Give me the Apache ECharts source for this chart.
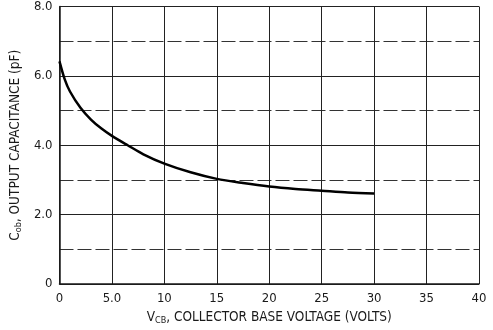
<!DOCTYPE html>
<html>
<head>
    <meta charset="utf-8" />
    <script src="https://cdn.jsdelivr.net/npm/echarts@6/dist/echarts.min.js"></script>
    <style type="text/css">
    body {
        margin: 0;
        background-color: #ffffff;
    }

    #chart {
        width: 493px;
        height: 330px;
    }
    </style>
</head>
<body>
    <div id="chart"></div>
    <script type="text/javascript">
    // curve
    let vcb = [0, 0.5, 1, 2, 3, 4, 5, 6.5, 8, 10, 12.5, 15, 17.5, 20, 22.5, 25, 27.5, 30];
    let cob = [6.42, 5.9, 5.55, 5.08, 4.74, 4.48, 4.27, 4.0, 3.74, 3.47, 3.22, 3.03, 2.91, 2.81, 2.74, 2.69, 2.64, 2.61];

    let xLabels = { 0: '0', 5: '5.0' };
    let yLabels = { 0: '0', 2: '2.0', 4: '4.0', 6: '6.0', 8: '8.0' };

    let font = '"Liberation Sans Narrow", "DejaVu Sans Condensed", sans-serif';
    let ink = '#1a1a1a';

    let pts = [];
    for (let i = 0; i < vcb.length; i++) {
        pts.push([vcb[i], cob[i]]);
    }

    let rich = {
        big: { fontFamily: font, fontSize: 13.5, color: ink, lineHeight: 16 },
        sub: { fontFamily: font, fontSize: 9, color: ink, verticalAlign: 'bottom', lineHeight: 12 }
    };

    let opt = {
        animation: false,
        grid: {
            left: 54,
            right: 14,
            top: 6,
            bottom: 41
        },
        xAxis: {
            type: 'value',
            min: 0,
            max: 40,
            interval: 5,
            name: '{big|V}{sub|CB}{big|, COLLECTOR BASE VOLTAGE (VOLTS)}',
            nameLocation: 'middle',
            nameGap: 25,
            nameTextStyle: { rich: rich },
            axisLine: { lineStyle: { color: ink, width: 1.5 } },
            axisTick: { show: false },
            axisLabel: {
                margin: 8,
                fontFamily: font,
                fontSize: 13,
                color: ink,
                formatter: function (v) {
                    return xLabels[v] !== undefined ? xLabels[v] : String(v);
                }
            },
            splitLine: {
                show: true,
                lineStyle: { color: '#222', width: 1 }
            }
        },
        yAxis: {
            type: 'value',
            min: 0,
            max: 8,
            interval: 2,
            name: '{big|C}{sub|ob}{big|, OUTPUT CAPACITANCE (pF)}',
            nameLocation: 'middle',
            nameGap: 30,
            nameTextStyle: { rich: rich },
            axisLine: { show: true, lineStyle: { color: ink, width: 1.5 } },
            axisTick: { show: false },
            minorTick: { show: false, splitNumber: 2 },
            axisLabel: {
                margin: 7,
                fontFamily: font,
                fontSize: 13,
                color: ink,
                formatter: function (v) {
                    return yLabels[v] !== undefined ? yLabels[v] : '';
                }
            },
            splitLine: {
                show: true,
                lineStyle: { color: '#222', width: 1 }
            },
            minorSplitLine: {
                show: true,
                lineStyle: { color: '#333', width: 1, type: [14, 4] }
            }
        },
        series: [{
            type: 'line',
            data: pts,
            smooth: 0.3,
            symbol: 'none',
            lineStyle: { color: '#000', width: 2.5 }
        }]
    };

    let chart = echarts.init(document.getElementById('chart'));
    chart.setOption(opt);
    </script>
</body>
</html>
